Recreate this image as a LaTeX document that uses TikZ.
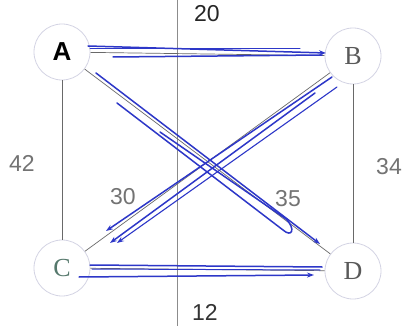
\documentclass[tikz,border=0pt]{standalone}
\usepackage{fontspec}
\setmainfont{Liberation Serif}
\setsansfont{Liberation Sans}
\usetikzlibrary{arrows.meta}
\definecolor{ink}{RGB}{45,55,200}
\definecolor{edgegray}{RGB}{105,105,105}
\definecolor{ringgray}{RGB}{212,212,228}
\definecolor{cgreen}{RGB}{85,120,108}
\begin{document}
\begin{tikzpicture}[x=1pt,y=-1pt,
  vert/.style={circle,draw=ringgray,line width=0.8pt,minimum size=56pt,inner sep=0pt,
    font=\fontsize{26}{26}\selectfont,text=black!65},
  edge/.style={draw=edgegray,line width=0.7pt},
  wlabel/.style={font=\sffamily\fontsize{23}{23}\selectfont,text=black!55},
  pen/.style={draw=ink,line width=1.5pt,line cap=round},
  penarrow/.style={pen,-{Stealth[length=7pt,width=5pt]}}]
\useasboundingbox (0,0) rectangle (404,326);
\fill[white] (0,0) rectangle (404,326);
\draw[black!45,line width=0.6pt] (177,0) -- (177,326);

\node[vert,font=\sffamily\bfseries\fontsize{26}{26}\selectfont,text=black] (A) at (62,52) {A};
\node[vert] (B) at (353,56) {B};
\node[vert,text=cgreen] (C) at (62,268) {C};
\node[vert] (D) at (353,271) {D};

\draw[edge] (A) -- (B);
\draw[edge] (A) -- (C);
\draw[edge] (B) -- (D);
\draw[edge] (A) -- (D);
\draw[edge] (B) -- (C);
\draw[edge] (C) -- (D);

\node[wlabel,text=black!85] (w20) at (207,14) {20};
\node[wlabel] (w42) at (22,163) {42};
\node[wlabel] (w34) at (389,167) {34};
\node[wlabel] (w30) at (123,197) {30};
\node[wlabel] (w35) at (288,199) {35};
\node[wlabel,text=black!80] (w12) at (205,312) {12};

% hand-drawn blue strokes
\draw[penarrow] (88,46) -- (326,53);
\draw[pen,line width=1pt] (90,49) -- (300,49);
\draw[pen] (113,57) -- (322,55);

\draw[penarrow] (96,73) -- (320,244);
\draw[pen] (117,103) -- (283,230) .. controls (292,238) and (296,229) .. (286,219) -- (160,132);

\draw[penarrow] (332,77) -- (106,231);
\draw[penarrow,line width=1.1pt] (337,87) -- (117,243);
\draw[penarrow] (315,93) -- (110,243);

\draw[pen] (90,265) -- (322,267);
\draw[pen,line width=1pt] (92,269) -- (320,270);
\draw[penarrow] (79,277) -- (314,275);
\end{tikzpicture}
\end{document}
